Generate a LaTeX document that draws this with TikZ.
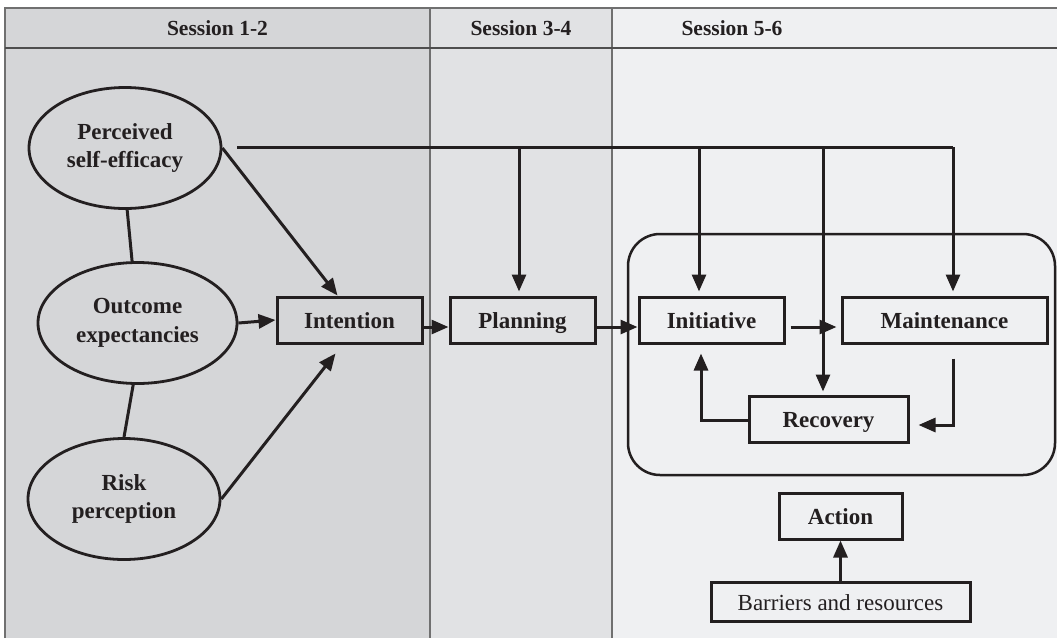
\documentclass[tikz,border=0pt]{standalone}
\usepackage{fontspec}
\setmainfont{Liberation Serif}
\usetikzlibrary{arrows.meta,shapes.geometric}
\definecolor{colA}{HTML}{D5D6D8}
\definecolor{colB}{HTML}{E1E2E4}
\definecolor{colC}{HTML}{EFF0F2}
\definecolor{ink}{HTML}{231F20}
\definecolor{rulecol}{HTML}{707070}
\begin{document}
\begin{tikzpicture}[x=1pt,y=-1pt,
  lbl/.style={font=\fontsize{23}{28.5}\selectfont\bfseries, text=ink, align=center},
  stagebox/.style={draw=ink, line width=3pt, minimum height=46pt, inner sep=0pt, lbl, text height=19pt, text depth=2pt},
  oval/.style={draw=ink, ellipse, line width=2.8pt, inner sep=0pt, minimum width=192pt, minimum height=121pt, lbl},
  conn/.style={draw=ink, line width=3pt},
  arr/.style={conn, -{Triangle[length=17pt,width=14pt]}},
  hdr/.style={font=\fontsize{21.5}{24}\selectfont\bfseries, text=ink},
]
\useasboundingbox (0,0) rectangle (1057,638);
% columns
\fill[colA] (5,8) rectangle (430,638);
\fill[colB] (430,8) rectangle (612,638);
\fill[colC] (612,8) rectangle (1057,638);
\draw[rulecol, line width=1.8pt] (5,638) -- (5,8) -- (1057,8);
\draw[rulecol, line width=1.3pt] (430,8) -- (430,638);
\draw[rulecol, line width=1.3pt] (612,8) -- (612,638);
\draw[rulecol!70!black, line width=2.2pt] (5,48) -- (1057,48);
% headers
\node[hdr] (h1) at (217.5,28) {Session 1-2};
\node[hdr] (h2) at (521,28) {Session 3-4};
\node[hdr] (h3) at (732,28) {Session 5-6};
% container
\node[draw=ink, line width=2.5pt, rounded corners=32pt, minimum width=427pt, minimum height=241pt, inner sep=0pt] (loop) at (841.5,354.5) {};
% ellipses
\node[oval] (pse) at (125,148) {Perceived\\self-efficacy};
\node[oval, minimum width=199pt] (oe) at (137.5,323) {Outcome\\expectancies};
\node[oval] (rp) at (124,499) {Risk\\perception};
% boxes
\node[stagebox, minimum width=145pt] (int) at (349.5,320) {Intention};
\node[stagebox, minimum width=145pt] (plan) at (522.5,320) {Planning};
\node[stagebox, minimum width=145pt] (ini) at (711.5,320) {Initiative};
\node[stagebox, minimum width=205pt] (mnt) at (944.5,320) {Maintenance};
\node[stagebox, minimum width=159pt] (rec) at (828.5,419) {Recovery};
\node[stagebox, minimum width=123pt] (act) at (840.5,516) {Action};
\node[stagebox, minimum width=259pt, minimum height=39pt, font=\fontsize{23}{26}\selectfont\mdseries] (bar) at (840.5,601.5) {Barriers and resources};
% left connectors
\draw[conn] (pse.272) -- (oe.95);
\draw[conn] (oe.266) -- (rp.90);
\draw[arr] (pse.east) -- ([xshift=-12pt]int.north);
\draw[arr] (oe.east) -- (int.west);
\draw[arr] (rp.east) -- ([xshift=-14pt,yshift=-9pt]int.south);
% top line and drops
\coordinate (topL) at (237,147);
\coordinate (topR) at (953,147);
\draw[conn] (topL) -- (topR);
\draw[arr] ([xshift=-3.5pt]plan.north |- topL) -- ([xshift=-3.5pt,yshift=4pt]plan.north);
\draw[arr] ([xshift=-12.5pt]ini.north |- topL) -- ([xshift=-12.5pt,yshift=4pt]ini.north);
\draw[arr] ([xshift=-5.5pt]rec.north |- topL) -- ([xshift=-5.5pt,yshift=3pt]rec.north);
\draw[arr] ([xshift=8.5pt]mnt.north |- topL) -- ([xshift=8.5pt,yshift=4pt]mnt.north);
% chain
\draw[arr] ([yshift=-7pt]int.east) -- ([yshift=-7pt]plan.west);
\draw[arr] ([yshift=-7pt]plan.east) -- ([yshift=-7pt]ini.west);
\draw[arr] ([xshift=5pt,yshift=-7pt]ini.east) -- ([xshift=-4pt,yshift=-7pt]mnt.west);
\draw[arr] ([xshift=8.5pt,yshift=-14pt]mnt.south) |- ([xshift=9pt,yshift=-6pt]rec.east);
\draw[arr] ([yshift=-1pt]rec.west) -| ([xshift=-10.5pt,yshift=-9pt]ini.south);
\draw[arr] (bar.north) -- (act.south);
\end{tikzpicture}
\end{document}
